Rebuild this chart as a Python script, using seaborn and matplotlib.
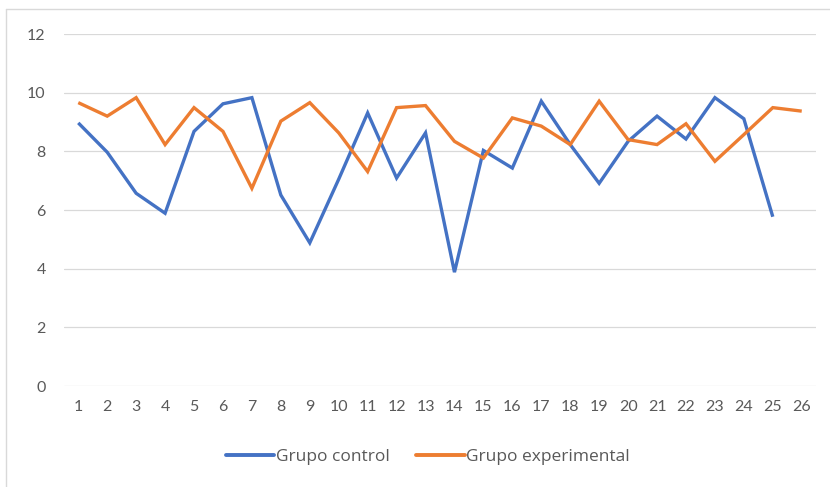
import matplotlib
matplotlib.use("Agg")
import matplotlib.pyplot as plt
from matplotlib.lines import Line2D
import seaborn as sns
import pandas as pd

sesiones = list(range(1, 27))
grupo_control = [8.97, 7.97, 6.57, 5.89, 8.68, 9.62, 9.83, 6.51, 4.88, 7.05,
                 9.31, 7.09, 8.63, 3.88, 8.03, 7.43, 9.71, 8.23, 6.91, 8.34,
                 9.20, 8.42, 9.83, 9.11, 5.77, None]
grupo_experimental = [9.66, 9.20, 9.83, 8.23, 9.49, 8.68, 6.74, 9.03, 9.66, 8.63,
                      7.31, 9.49, 9.56, 8.34, 7.77, 9.14, 8.86, 8.23, 9.71, 8.40,
                      8.23, 8.94, 7.66, 8.57, 9.49, 9.37]
series = ["Grupo control", "Grupo experimental"]
colores = ["#4472C4", "#ED7D31"]
y_ticks = [0, 2, 4, 6, 8, 10, 12]

df = pd.concat([
    pd.DataFrame({"Sesión": sesiones, "Nota": grupo_control, "Grupo": series[0]}),
    pd.DataFrame({"Sesión": sesiones, "Nota": grupo_experimental, "Grupo": series[1]}),
]).dropna()

sns.set_theme(style="white")
plt.rcParams["font.family"] = ["Lato", "DejaVu Sans"]

fig = plt.figure(figsize=(8.30, 4.87), dpi=100)
ax = fig.add_axes([63.8 / 830, 1 - 386 / 487, (816.2 - 63.8) / 830, (386 - 34) / 487])

sns.lineplot(data=df, x="Sesión", y="Nota", hue="Grupo", hue_order=series,
             palette=colores, linewidth=2.4, ax=ax, legend=False,
             solid_capstyle="butt", solid_joinstyle="miter")

ax.set_xlim(0.5, 26.5)
ax.set_ylim(0, 12)
ax.set_xticks(sesiones)
ax.set_yticks(y_ticks)
ax.set_xticklabels([str(s) for s in sesiones])
ax.set_yticklabels([str(v) for v in y_ticks])
ax.grid(axis="y", color="#D9D9D9", linewidth=0.9)
ax.set_axisbelow(True)
for s in ax.spines.values():
    s.set_visible(False)
ax.tick_params(axis="both", length=0, labelsize=11.5, colors="#595959")
ax.tick_params(axis="x", pad=10)
ax.tick_params(axis="y", pad=13)
ax.set_xlabel("")
ax.set_ylabel("")

handles = [Line2D([], [], color=c, linewidth=2.8) for c in colores]
fig.legend(handles, series, loc="center", bbox_to_anchor=(428 / 830, 1 - 457 / 487),
           ncol=2, frameon=False, handlelength=2.8, handletextpad=0.1,
           columnspacing=1.5, labelcolor="#595959",
           prop={"family": ["Open Sans", "DejaVu Sans"], "size": 12.5})

# chart frame (top and left edges)
fig.add_artist(Line2D([6 / 830, 6 / 830], [0, 1 - 9 / 487], transform=fig.transFigure,
                      color="#D9D9D9", linewidth=1.0))
fig.add_artist(Line2D([6 / 830, 1], [1 - 9 / 487, 1 - 9 / 487], transform=fig.transFigure,
                      color="#D9D9D9", linewidth=1.0))

fig.savefig("out.png", dpi=100, facecolor="white")
